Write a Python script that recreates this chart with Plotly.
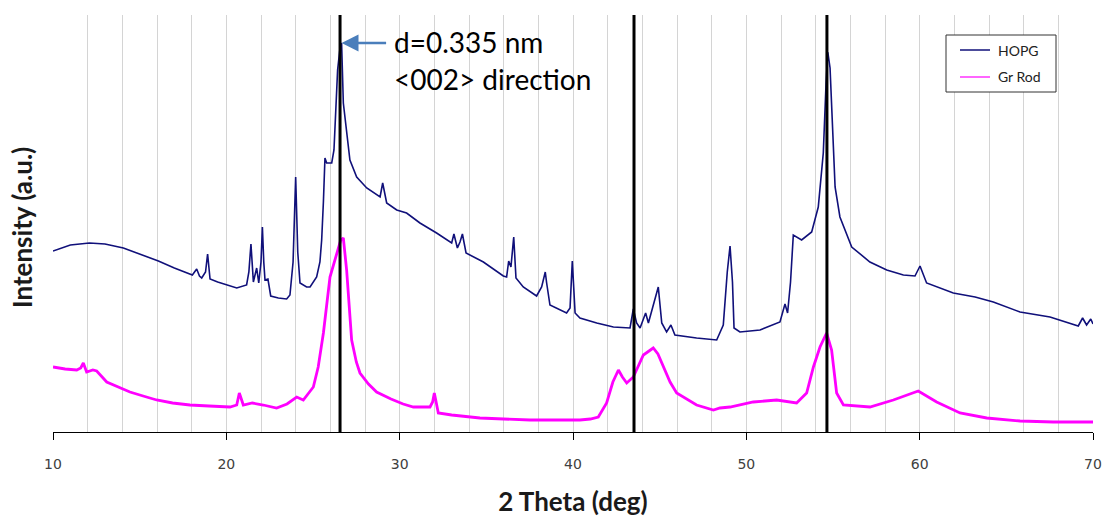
import plotly.graph_objects as go

# XRD scans: 2-theta (deg) and relative intensity (a.u.)
hopg_2theta = [
    10.0, 11.0, 12.1, 13.0, 14.06, 15.0, 16.08, 17.0, 17.6, 18.04, 18.29, 18.45, 18.58, 18.8,
    18.92, 19.06, 19.5, 20.02, 20.6, 21.17, 21.3, 21.42, 21.5, 21.56, 21.75, 21.87, 22.0, 22.08,
    22.16, 22.23, 22.4, 22.56, 23.0, 23.48, 23.67, 23.85, 24.0, 24.12, 24.25, 24.63, 24.83, 25.21,
    25.4, 25.5, 25.6, 25.69, 25.79, 26.08, 26.21, 26.33, 26.42, 26.56, 26.65, 26.75, 26.94, 27.13,
    27.52, 28.1, 28.87, 29.02, 29.25, 29.83, 30.4, 31.17, 32.13, 33.0, 33.13, 33.33, 33.48, 33.62,
    33.83, 34.83, 35.98, 36.17, 36.29, 36.42, 36.58, 36.71, 37.13, 37.9, 38.19, 38.4, 38.48, 38.67,
    39.63, 39.83, 39.96, 40.12, 40.4, 41.37, 42.33, 43.29, 43.48, 43.67, 43.87, 44.19, 44.35, 44.63,
    44.92, 45.12, 45.4, 45.65, 45.88, 47.13, 48.29, 48.67, 48.9, 49.06, 49.2, 49.29, 49.63, 50.79,
    51.94, 52.23, 52.38, 52.55, 52.71, 53.19, 53.77, 54.15, 54.44, 54.6, 54.7, 54.83, 54.92, 55.12,
    55.4, 56.08, 57.13, 58.1, 59.06, 59.73, 60.02, 60.4, 61.94, 63.2, 64.25, 65.79, 67.52, 69.15,
    69.4, 69.63, 69.87, 70.0,
]
hopg_intensity = [
    181, 187, 189, 188, 184, 178, 171, 164, 160, 157, 163, 156, 154, 160,
    178, 153, 150, 147, 144, 147, 160, 188, 160, 150, 164, 149, 170, 205,
    170, 152, 153, 136, 134, 133, 137, 170, 255, 180, 149, 145, 145, 155,
    170, 192, 230, 274, 269, 269, 282, 325, 362, 384, 389, 329, 302, 272,
    255, 244, 235, 249, 229, 222, 219, 209, 199, 189, 198, 184, 190, 198,
    179, 170, 156, 155, 171, 165, 195, 154, 145, 136, 145, 160, 149, 127,
    119, 124, 171, 119, 114, 109, 105, 104, 123, 109, 104, 119, 109, 127,
    145, 109, 100, 107, 97, 94, 92, 107, 160, 186, 150, 104, 100, 102,
    110, 128, 119, 150, 197, 192, 200, 225, 279, 349, 380, 364, 322, 245,
    215, 185, 170, 162, 157, 156, 166, 149, 139, 135, 130, 120, 115, 106,
    114, 107, 113, 108,
]

grrod_2theta = [
    10.0, 10.7, 11.37, 11.6, 11.75, 11.94, 12.3, 12.52, 13.1, 13.8, 14.44, 15.2, 15.98, 16.9,
    17.9, 19.0, 20.21, 20.6, 20.75, 20.98, 21.5, 22.13, 22.9, 23.5, 24.06, 24.44, 25.02, 25.3,
    25.6, 25.98, 26.37, 26.6, 26.75, 26.94, 27.23, 27.5, 27.71, 28.2, 28.67, 29.5, 30.2, 30.79,
    31.75, 31.9, 32.0, 32.23, 33.0, 34.63, 36.0, 37.52, 39.0, 40.4, 41.0, 41.46, 41.94, 42.3,
    42.62, 42.85, 43.1, 43.48, 44.06, 44.63, 44.9, 45.21, 45.6, 45.98, 47.13, 48.1, 48.48, 49.06,
    50.4, 51.75, 52.9, 53.48, 53.87, 54.25, 54.63, 54.92, 55.21, 55.6, 57.13, 58.48, 59.3, 59.92,
    60.98, 62.33, 63.87, 65.79, 67.71, 70.0,
]
grrod_intensity = [
    65, 63, 62, 64, 69, 60, 62, 61, 50, 45, 40, 36, 32, 29,
    27, 26, 25, 27, 39, 27, 29, 27, 24, 28, 35, 32, 45, 65,
    99, 155, 179, 192, 194, 162, 92, 70, 59, 48, 40, 33, 28, 25,
    25, 30, 39, 19, 17, 14, 13, 12, 12, 12, 13, 15, 29, 50,
    62, 55, 49, 55, 77, 84, 78, 65, 50, 39, 27, 22, 24, 25,
    30, 32, 29, 39, 65, 85, 99, 82, 39, 27, 25, 32, 37, 41,
    30, 19, 14, 11, 10, 10,
]

series_names = ["HOPG", "Gr Rod"]
series_colors = ["#10107a", "#ff00ff"]
series_widths = [1.6, 2.8]

# Reference reflections marked with vertical lines (deg)
marker_2theta = [26.56, 43.52, 54.65]

# Arrow target on the <002> peak
peak_002 = (26.65, 389)
label_lines = ["d=0.335 nm", "&lt;002&gt; direction"]
label_x = 29.56
label_y = [390, 353]

# plot-area geometry in pixels (used to place the framed key)
L, R, T, B = 53, 1093, 15, 432


def px_x(p):
    return (p - L) / (R - L)


def px_y(p):
    return (B - p) / (B - T)


TITLE_FONT = dict(family="Lato, Open Sans, sans-serif", size=26, color="#1a1a1a")

fig = go.Figure()
for xs, ys, name, col, w in zip(
    [hopg_2theta, grrod_2theta], [hopg_intensity, grrod_intensity],
    series_names, series_colors, series_widths,
):
    fig.add_trace(go.Scatter(x=xs, y=ys, mode="lines", name=name,
                             line=dict(color=col, width=w), showlegend=False))

for xv in marker_2theta:
    fig.add_shape(type="line", xref="x", yref="paper", x0=xv, x1=xv, y0=0, y1=1,
                  line=dict(color="black", width=3))

fig.add_annotation(
    x=peak_002[0], y=peak_002[1], xref="x", yref="y", text="",
    showarrow=True, ax=46, ay=0, axref="pixel", ayref="pixel",
    arrowhead=2, arrowsize=1.3, arrowwidth=2.6, arrowcolor="#4a7ebb",
)
for txt, yv in zip(label_lines, label_y):
    fig.add_annotation(
        x=label_x, y=yv, xref="x", yref="y", text=txt, showarrow=False,
        xanchor="left", yanchor="middle",
        font=dict(family="Lato, Open Sans, sans-serif", size=28, color="black"),
    )

# framed key in the upper right
fig.add_shape(type="rect", xref="paper", yref="paper",
              x0=px_x(946), x1=px_x(1056), y0=px_y(92), y1=px_y(35),
              line=dict(color="#333333", width=1), fillcolor="white")
for i, (name, col) in enumerate(zip(series_names, series_colors)):
    yc = px_y(50 + 27 * i)
    fig.add_shape(type="line", xref="paper", yref="paper",
                  x0=px_x(960), x1=px_x(990), y0=yc, y1=yc,
                  line=dict(color=col if i == 0 else "#ff66ff", width=1.5 if i == 0 else 2))
    fig.add_annotation(x=px_x(996), y=yc, xref="paper", yref="paper", text=name,
                       showarrow=False, xanchor="left", yanchor="middle",
                       font=dict(family="Lato, Open Sans, sans-serif", size=14, color="#222222"))

# y-axis title, centred on the left margin
fig.add_annotation(
    x=px_x(22), y=px_y(228), xref="paper", yref="paper",
    text="<b>Intensity (a.u.)</b>", showarrow=False, textangle=-90,
    xanchor="center", yanchor="middle", font=TITLE_FONT,
)

fig.update_layout(
    width=1104, height=519,
    margin=dict(l=L, r=1104 - R, t=T, b=519 - B, autoexpand=False),
    plot_bgcolor="white", paper_bgcolor="white",
    showlegend=False,
    xaxis=dict(
        range=[10, 70], dtick=10, tick0=10, automargin=False,
        showline=True, linecolor="black", linewidth=1,
        ticks="outside", ticklen=7, tickcolor="black", tickwidth=1,
        ticklabelstandoff=12,
        tickfont=dict(family="DejaVu Sans, Verdana, sans-serif", size=14, color="#404040"),
        showgrid=True, gridcolor="#d4d4d4", gridwidth=1,
        minor=dict(dtick=2, showgrid=True, gridcolor="#d4d4d4", gridwidth=1, ticks=""),
        zeroline=False,
        title=dict(text="<b>2 Theta (deg)</b>", standoff=22, font=TITLE_FONT),
    ),
    yaxis=dict(
        range=[0, 417], showticklabels=False, showgrid=False, zeroline=False,
        showline=False, ticks="", automargin=False,
    ),
)

fig.write_html("out.html")
